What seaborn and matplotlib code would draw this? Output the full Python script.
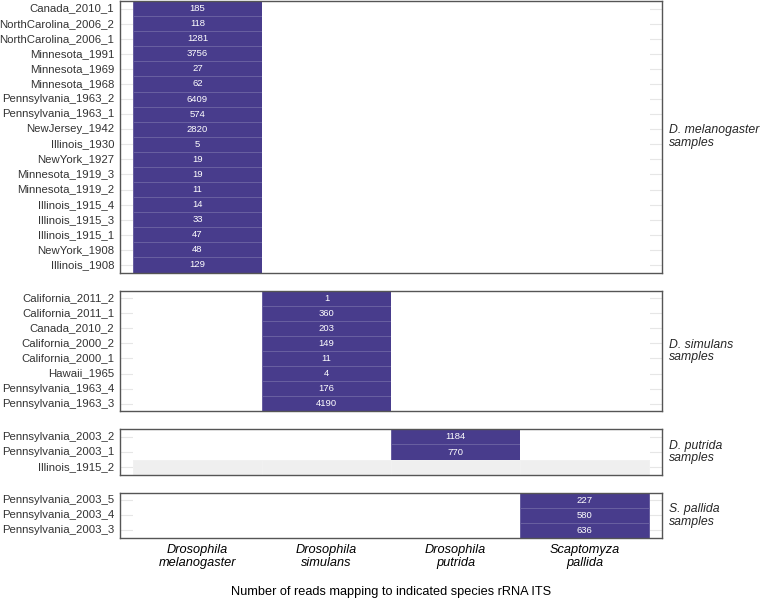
import numpy as np
import pandas as pd
import matplotlib
matplotlib.use("Agg")
import matplotlib.pyplot as plt
import seaborn as sns
from matplotlib.colors import ListedColormap

sns.set_theme(style="white")
plt.rcParams['font.family'] = ['Liberation Sans', 'DejaVu Sans']

# species columns (x axis)
species = ["Drosophila\nmelanogaster", "Drosophila\nsimulans", "Drosophila\nputrida", "Scaptomyza\npallida"]

# D. melanogaster samples
mel_samples = ["Canada_2010_1", "NorthCarolina_2006_2", "NorthCarolina_2006_1", "Minnesota_1991",
               "Minnesota_1969", "Minnesota_1968", "Pennsylvania_1963_2", "Pennsylvania_1963_1",
               "NewJersey_1942", "Illinois_1930", "NewYork_1927", "Minnesota_1919_3",
               "Minnesota_1919_2", "Illinois_1915_4", "Illinois_1915_3", "Illinois_1915_1",
               "NewYork_1908", "Illinois_1908"]
mel_counts = [[185, 0, 0, 0], [118, 0, 0, 0], [1281, 0, 0, 0], [3756, 0, 0, 0],
              [27, 0, 0, 0], [62, 0, 0, 0], [6409, 0, 0, 0], [574, 0, 0, 0],
              [2820, 0, 0, 0], [5, 0, 0, 0], [19, 0, 0, 0], [19, 0, 0, 0],
              [11, 0, 0, 0], [14, 0, 0, 0], [33, 0, 0, 0], [47, 0, 0, 0],
              [48, 0, 0, 0], [129, 0, 0, 0]]

# D. simulans samples
sim_samples = ["California_2011_2", "California_2011_1", "Canada_2010_2", "California_2000_2",
               "California_2000_1", "Hawaii_1965", "Pennsylvania_1963_4", "Pennsylvania_1963_3"]
sim_counts = [[0, 1, 0, 0], [0, 360, 0, 0], [0, 203, 0, 0], [0, 149, 0, 0],
              [0, 11, 0, 0], [0, 4, 0, 0], [0, 176, 0, 0], [0, 4190, 0, 0]]

# D. putrida samples (Illinois_1915_2 has no data)
put_samples = ["Pennsylvania_2003_2", "Pennsylvania_2003_1", "Illinois_1915_2"]
put_counts = [[0, 0, 1184, 0], [0, 0, 770, 0], [np.nan, np.nan, np.nan, np.nan]]

# S. pallida samples
pal_samples = ["Pennsylvania_2003_5", "Pennsylvania_2003_4", "Pennsylvania_2003_3"]
pal_counts = [[0, 0, 0, 227], [0, 0, 0, 580], [0, 0, 0, 636]]

groups = [("D. melanogaster\nsamples", mel_samples, mel_counts),
          ("D. simulans\nsamples", sim_samples, sim_counts),
          ("D. putrida\nsamples", put_samples, put_counts),
          ("S. pallida\nsamples", pal_samples, pal_counts)]

purple = "#483C8C"
cmap = ListedColormap(["white", purple, "#EFEFEF"])

fig = plt.figure(figsize=(7.63, 5.98), dpi=100)
gs = fig.add_gridspec(4, 1, height_ratios=[len(g[1]) for g in groups],
                      left=120 / 763, right=662 / 763, top=1 - 1 / 598, bottom=1 - 538 / 598,
                      hspace=0.15)

for i, (label, samples, counts) in enumerate(groups):
    ax = fig.add_subplot(gs[i])
    df = pd.DataFrame(counts, index=samples, columns=species)
    # 0 = no reads, 1 = reads, 2 = missing
    code = np.where(df.isna(), 2, (df > 0).astype(int))
    annot = df.apply(lambda col: col.map(lambda v: "" if pd.isna(v) or v == 0 else f"{int(v)}"))
    sns.heatmap(pd.DataFrame(code, index=samples, columns=species), ax=ax, cmap=cmap,
                vmin=-0.5, vmax=2.5, cbar=False, annot=annot.values, fmt="",
                annot_kws={"color": "white", "fontsize": 6.8},
                linewidths=0.6, linecolor=(1, 1, 1, 0.18),
                xticklabels=True, yticklabels=True)
    ax.set_xlim(-0.1, 4.1)
    ax.set_axisbelow(True)
    ax.grid(True, color="#E6E6E6", lw=0.8)
    for s in ax.spines.values():
        s.set_visible(True)
        s.set_color("#555555")
        s.set_linewidth(1.0)
    ax.set_ylabel("")
    ax.set_yticklabels(samples, rotation=0, fontsize=8.2, color="#333333")
    ax.tick_params(axis="both", length=0, pad=4)
    if i < len(groups) - 1:
        ax.set_xticklabels([])
        ax.set_xlabel("")
    else:
        ax.set_xticklabels(species, rotation=0, fontsize=9.2, style="italic", color="black")
        ax.set_xlabel("Number of reads mapping to indicated species rRNA ITS",
                      fontsize=9.2, color="black", labelpad=12)
    ax.text(1.012, 0.5, label, transform=ax.transAxes, ha="left", va="center",
            fontsize=8.8, style="italic", linespacing=1.1)

fig.savefig("out.png", dpi=100)
